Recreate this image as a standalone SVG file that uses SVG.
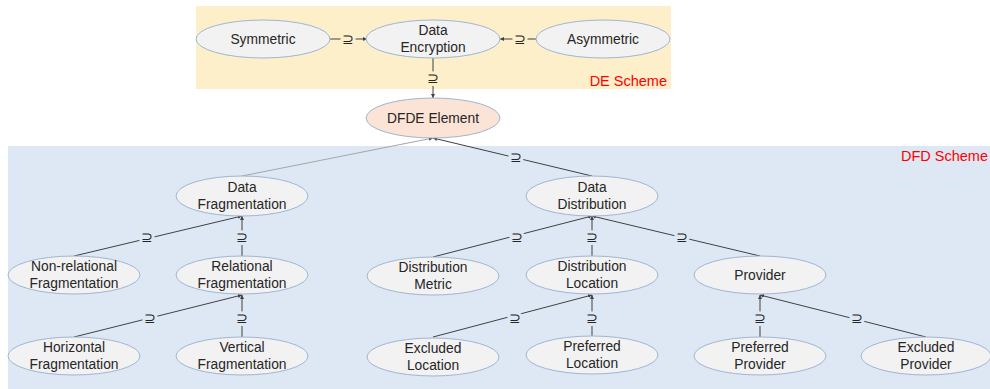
<svg xmlns="http://www.w3.org/2000/svg" width="990" height="389" viewBox="0 0 990 389">
<style>
.n ellipse{fill:#f2f2f2;stroke:#9fb6d2;stroke-width:1}
.n text,.lbl{font-family:"Liberation Sans",Arial,sans-serif;font-size:13.8px;fill:#262626;text-anchor:middle}
.e line{stroke:#404040;stroke-width:1;fill:none}
.lbl{font-size:14px;paint-order:stroke;stroke-width:6px}
.ly{stroke:#fcefca}
.lb{stroke:#dde8f4}
.sc{font-family:"Liberation Sans",Arial,sans-serif;font-size:14.5px;fill:#ff0000}
</style>
<defs>
<marker id="a" viewBox="0 0 6 6" refX="6" refY="3" markerWidth="4" markerHeight="4" orient="auto"><path d="M0,0 L6,3 L0,6 z" fill="#404040"/></marker>
</defs>
<rect x="196" y="6" width="475" height="83" fill="#fcefca"/>
<rect x="8" y="146" width="982" height="243" fill="#dde8f4"/>
<text class="sc" x="667" y="86" text-anchor="end">DE Scheme</text>
<text class="sc" x="988" y="161" text-anchor="end">DFD Scheme</text>
<g id="edges" class="e">
<line x1="330" y1="39" x2="367" y2="39" marker-end="url(#a)"/>
<line x1="537" y1="39" x2="500" y2="39" marker-end="url(#a)"/>
<line x1="433" y1="58" x2="433" y2="98" marker-end="url(#a)"/>
<line x1="242" y1="176" x2="433" y2="138" style="stroke:#a6a6a6" marker-end="url(#a)"/>
<line x1="592" y1="176" x2="433" y2="138" marker-end="url(#a)"/>
<line x1="74" y1="256" x2="242" y2="216" marker-end="url(#a)"/>
<line x1="242" y1="256" x2="242" y2="216" marker-end="url(#a)"/>
<line x1="74" y1="337" x2="242" y2="295" marker-end="url(#a)"/>
<line x1="242" y1="337" x2="242" y2="295" marker-end="url(#a)"/>
<line x1="433" y1="257" x2="592" y2="216" marker-end="url(#a)"/>
<line x1="592" y1="256" x2="592" y2="216" marker-end="url(#a)"/>
<line x1="760" y1="256" x2="592" y2="216" marker-end="url(#a)"/>
<line x1="433" y1="337" x2="592" y2="295" marker-end="url(#a)"/>
<line x1="592" y1="336" x2="592" y2="295" marker-end="url(#a)"/>
<line x1="760" y1="337" x2="760" y2="295" marker-end="url(#a)"/>
<line x1="926" y1="337" x2="760" y2="295" marker-end="url(#a)"/>
<text class="lbl ly" x="348" y="44">⊇</text>
<text class="lbl ly" x="520" y="44">⊇</text>
<text class="lbl ly" x="433" y="83">⊇</text>
<text class="lbl lb" x="516" y="162">⊇</text>
<text class="lbl lb" x="147" y="242">⊇</text>
<text class="lbl lb" x="242" y="242">⊇</text>
<text class="lbl lb" x="150" y="323">⊇</text>
<text class="lbl lb" x="242" y="323">⊇</text>
<text class="lbl lb" x="517" y="242">⊇</text>
<text class="lbl lb" x="592" y="242">⊇</text>
<text class="lbl lb" x="682" y="242">⊇</text>
<text class="lbl lb" x="515" y="323">⊇</text>
<text class="lbl lb" x="592" y="323">⊇</text>
<text class="lbl lb" x="760" y="323">⊇</text>
<text class="lbl lb" x="857" y="323">⊇</text>
</g>
<g id="symmetric" class="n"><ellipse cx="263" cy="39" rx="67" ry="19"/><text x="263" y="44">Symmetric</text></g>
<g id="data-encryption" class="n"><ellipse cx="433" cy="39" rx="67" ry="19"/><text x="433" y="35">Data</text><text x="433" y="52">Encryption</text></g>
<g id="asymmetric" class="n"><ellipse cx="603" cy="39" rx="67" ry="19"/><text x="603" y="44">Asymmetric</text></g>
<g id="dfde-element" class="n"><ellipse cx="433" cy="118" rx="67" ry="20" style="fill:#fbe3d5"/><text x="433" y="123">DFDE Element</text></g>
<g id="data-fragmentation" class="n"><ellipse cx="242" cy="196" rx="66" ry="20"/><text x="242" y="192">Data</text><text x="242" y="209">Fragmentation</text></g>
<g id="data-distribution" class="n"><ellipse cx="592" cy="196" rx="66" ry="20"/><text x="592" y="192">Data</text><text x="592" y="209">Distribution</text></g>
<g id="non-relational-fragmentation" class="n"><ellipse cx="74" cy="275" rx="66" ry="19"/><text x="74" y="271">Non-relational</text><text x="74" y="288">Fragmentation</text></g>
<g id="relational-fragmentation" class="n"><ellipse cx="242" cy="275" rx="66" ry="19"/><text x="242" y="271">Relational</text><text x="242" y="288">Fragmentation</text></g>
<g id="horizontal-fragmentation" class="n"><ellipse cx="74" cy="356" rx="66" ry="19"/><text x="74" y="352">Horizontal</text><text x="74" y="369">Fragmentation</text></g>
<g id="vertical-fragmentation" class="n"><ellipse cx="242" cy="356" rx="66" ry="19"/><text x="242" y="352">Vertical</text><text x="242" y="369">Fragmentation</text></g>
<g id="distribution-metric" class="n"><ellipse cx="433" cy="276" rx="66" ry="19"/><text x="433" y="272">Distribution</text><text x="433" y="289">Metric</text></g>
<g id="distribution-location" class="n"><ellipse cx="592" cy="275" rx="66" ry="19"/><text x="592" y="271">Distribution</text><text x="592" y="288">Location</text></g>
<g id="provider" class="n"><ellipse cx="760" cy="275" rx="66" ry="19"/><text x="760" y="280">Provider</text></g>
<g id="excluded-location" class="n"><ellipse cx="433" cy="357" rx="66" ry="19"/><text x="433" y="353">Excluded</text><text x="433" y="370">Location</text></g>
<g id="preferred-location" class="n"><ellipse cx="592" cy="355" rx="66" ry="19"/><text x="592" y="351">Preferred</text><text x="592" y="368">Location</text></g>
<g id="preferred-provider" class="n"><ellipse cx="760" cy="356" rx="66" ry="19"/><text x="760" y="352">Preferred</text><text x="760" y="369">Provider</text></g>
<g id="excluded-provider" class="n"><ellipse cx="926" cy="356" rx="65" ry="19"/><text x="926" y="352">Excluded</text><text x="926" y="369">Provider</text></g>
</svg>
